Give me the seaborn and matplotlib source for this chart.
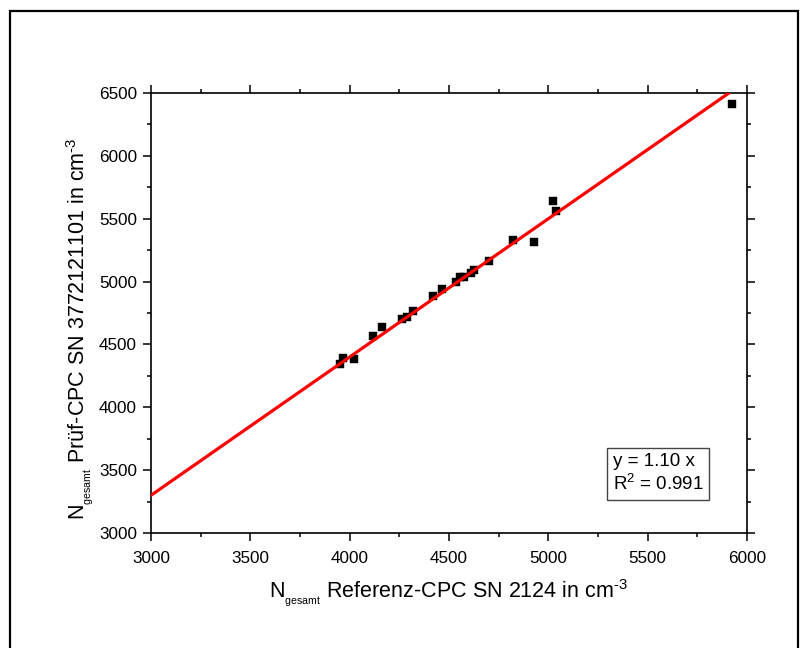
import matplotlib
matplotlib.use("Agg")
import matplotlib.pyplot as plt
import seaborn as sns
import numpy as np
import pandas as pd
from matplotlib.ticker import MultipleLocator
from matplotlib.patches import Rectangle

# ---- data ----
ref_cpc = [3951, 3968, 4023, 4119, 4164, 4262, 4290, 4320, 4421, 4466,
           4533, 4555, 4575, 4611, 4626, 4703, 4821, 4929, 5022, 5039, 5923]
test_cpc = [4344, 4394, 4387, 4567, 4636, 4700, 4716, 4766, 4888, 4939,
            4999, 5039, 5039, 5072, 5096, 5161, 5328, 5315, 5637, 5561, 6410]
slope = 1.10
r2 = 0.991
fit_x = [3000, 6000]
fit_y = [slope * v for v in fit_x]

x_ticks = [3000, 3500, 4000, 4500, 5000, 5500, 6000]
y_ticks = [3000, 3500, 4000, 4500, 5000, 5500, 6000, 6500]

sns.set_style("white")
plt.rcParams["font.family"] = ["Liberation Sans", "DejaVu Sans"]
plt.rcParams["mathtext.fontset"] = "custom"
plt.rcParams["mathtext.rm"] = "Liberation Sans"
plt.rcParams["mathtext.it"] = "Liberation Sans"
plt.rcParams["axes.unicode_minus"] = False
plt.rcParams["text.color"] = "black"
plt.rcParams["axes.labelcolor"] = "black"
plt.rcParams["xtick.color"] = "black"
plt.rcParams["ytick.color"] = "black"
plt.rcParams["xtick.labelcolor"] = "black"
plt.rcParams["ytick.labelcolor"] = "black"

W, H = 811, 648
fig = plt.figure(figsize=(W / 100, H / 100), dpi=100)
fig.patch.set_facecolor("white")
ax = fig.add_axes([151 / W, 1 - 533 / H, 596 / W, 440 / H])

df = pd.DataFrame({"ref": ref_cpc, "test": test_cpc})
sns.scatterplot(data=df, x="ref", y="test", ax=ax, marker="s", s=36,
                color="black", edgecolor="black", linewidth=0.3, zorder=3)
fit_df = pd.DataFrame({"x": fit_x, "y": fit_y})
sns.lineplot(data=fit_df, x="x", y="y", ax=ax, color="#ff0000", linewidth=2.3,
             zorder=4)

ax.set_xlim(3000, 6000)
ax.set_ylim(3000, 6500)
ax.set_xticks(x_ticks)
ax.set_yticks(y_ticks)
ax.set_xticklabels([str(v) for v in x_ticks])
ax.set_yticklabels([str(v) for v in y_ticks])
ax.xaxis.set_minor_locator(MultipleLocator(250))
ax.yaxis.set_minor_locator(MultipleLocator(250))
ax.tick_params(which="both", direction="out", top=True, right=True,
               bottom=True, left=True, color="black", labelcolor="black", width=1.1)
ax.tick_params(which="major", length=6, labelsize=12.3)
ax.tick_params(axis="x", which="major", pad=7)
ax.tick_params(axis="y", which="major", pad=4)
ax.tick_params(which="minor", length=3)
for sp in ax.spines.values():
    sp.set_color("black")
    sp.set_linewidth(1.2)

sub = r"$_{{}_{\mathregular{gesamt}}}$"
sup = r"$^{\text{-3}}$"
ax.set_xlabel("N" + sub + " Referenz-CPC SN 2124 in cm" + sup,
              fontsize=15.5, labelpad=8, color="black")
ax.set_ylabel("N" + sub + " Prüf-CPC SN 3772121101 in cm" + sup,
              fontsize=15.5, labelpad=3, color="black")
ax.yaxis.label.set_y(0.465)

ax.text(0.7745, 0.088, "y = 1.10 x\nR$^{2}$ = %.3f" % r2, transform=ax.transAxes,
        fontsize=13.5, ha="left", va="bottom", linespacing=1.25, color="black",
        bbox=dict(boxstyle="square,pad=0.3", fc="white", ec="#444444", lw=1.0),
        zorder=5)

# outer frame
fig.patches.append(Rectangle((10 / W, -0.05), (798 - 10) / W, (648 - 11) / H + 0.05,
                             transform=fig.transFigure, fill=False,
                             ec="black", lw=1.6, zorder=10))

fig.savefig("out.png", dpi=100, facecolor="white")
